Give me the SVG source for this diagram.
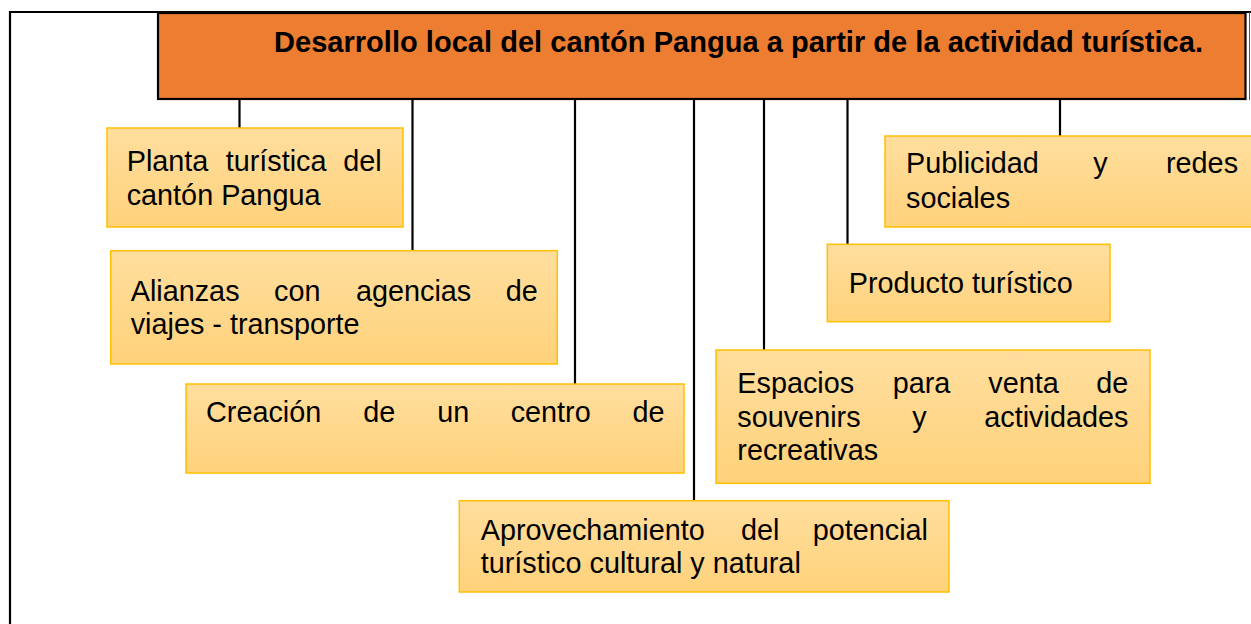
<svg xmlns="http://www.w3.org/2000/svg" width="1251" height="624" viewBox="0 0 1251 624">
<style>
.t{font-family:"Liberation Sans",Arial,sans-serif;font-size:28.8px;fill:#000}
.h{font-family:"Liberation Sans",Arial,sans-serif;font-size:29px;font-weight:bold;fill:#000}
.box{fill:url(#g);stroke:#FFC000;stroke-width:1.5}
.c line{stroke:#000;stroke-width:2.2}
</style>
<defs>
<linearGradient id="g" x1="0" y1="0" x2="0" y2="1">
<stop offset="0" stop-color="#FFDE9E"/>
<stop offset="1" stop-color="#FFD27B"/>
</linearGradient>
</defs>
<rect width="1251" height="624" fill="#fff"/>
<g id="frame" fill="none" stroke="#000">
<path d="M10 624 V12 H1251" stroke-width="2.2"/>
<line x1="1249.5" y1="12" x2="1249.5" y2="100" stroke="#555" stroke-width="1"/>
</g>
<g class="c" id="connectors">
<line x1="239.5" y1="99" x2="239.5" y2="128"/>
<line x1="412.5" y1="99" x2="412.5" y2="251"/>
<line x1="575" y1="99" x2="575" y2="384"/>
<line x1="694" y1="99" x2="694" y2="501"/>
<line x1="764" y1="99" x2="764" y2="350"/>
<line x1="847.5" y1="99" x2="847.5" y2="244"/>
<line x1="1060" y1="99" x2="1060" y2="136"/>
</g>
<g id="header">
<rect x="158" y="13" width="1087.5" height="86" fill="#ED7D31" stroke="#000" stroke-width="2.2"/>
<text class="h" x="274" y="52" textLength="929" lengthAdjust="spacing">Desarrollo local del cantón Pangua a partir de la actividad turística.</text>
</g>
<g id="n-planta">
<rect class="box" x="107" y="128" width="296" height="99"/>
<text class="t" y="171"><tspan x="126.7">Planta</tspan><tspan x="225.7">turística</tspan><tspan x="343.3">del</tspan></text>
<text class="t" x="126.7" y="205">cantón Pangua</text>
</g>
<g id="n-alianzas">
<rect class="box" x="110.7" y="250.7" width="446.6" height="113.3"/>
<text class="t" y="301"><tspan x="130.7">Alianzas</tspan><tspan x="274">con</tspan><tspan x="356">agencias</tspan><tspan x="505.7">de</tspan></text>
<text class="t" x="130.7" y="334.3">viajes - transporte</text>
</g>
<g id="n-creacion">
<rect class="box" x="186" y="384" width="498" height="89"/>
<text class="t" y="421.7"><tspan x="206">Creación</tspan><tspan x="363.3">de</tspan><tspan x="437.3">un</tspan><tspan x="510.7">centro</tspan><tspan x="632.4">de</tspan></text>
</g>
<g id="n-aprovechamiento">
<rect class="box" x="459.3" y="500.7" width="489.7" height="91.3"/>
<text class="t" y="540"><tspan x="480.7">Aprovechamiento</tspan><tspan x="741">del</tspan><tspan x="812.7">potencial</tspan></text>
<text class="t" x="480.7" y="573.3">turístico cultural y natural</text>
</g>
<g id="n-espacios">
<rect class="box" x="716" y="350" width="434" height="133.3"/>
<text class="t" y="393.3"><tspan x="737.3">Espacios</tspan><tspan x="892.7">para</tspan><tspan x="988.3">venta</tspan><tspan x="1096.3">de</tspan></text>
<text class="t" y="426.7"><tspan x="737.3">souvenirs</tspan><tspan x="912.3">y</tspan><tspan x="984.3">actividades</tspan></text>
<text class="t" x="737.3" y="460">recreativas</text>
</g>
<g id="n-producto">
<rect class="box" x="827.3" y="244.3" width="282.7" height="77.4"/>
<text class="t" x="848.7" y="293.3">Producto turístico</text>
</g>
<g id="n-publicidad">
<rect class="box" x="885" y="136" width="380" height="91"/>
<text class="t" y="173.3"><tspan x="906">Publicidad</tspan><tspan x="1093.3">y</tspan><tspan x="1166">redes</tspan></text>
<text class="t" x="906" y="208.3">sociales</text>
</g>
</svg>
